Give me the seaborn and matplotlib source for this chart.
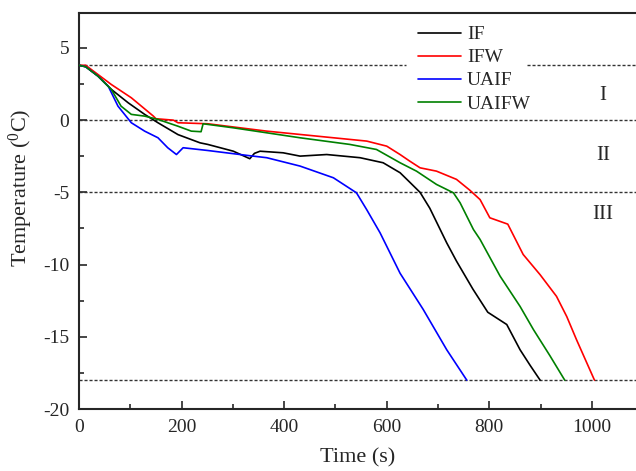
import numpy as np
import pandas as pd
import matplotlib
matplotlib.use("Agg")
import matplotlib.pyplot as plt
import seaborn as sns
from matplotlib.ticker import MultipleLocator

# ---- data ----
series_names = ["IF", "IFW", "UAIF", "UAIFW"]
series_colors = ["#000000", "#ff0000", "#0000ff", "#008000"]

IF_time = [0, 13, 37, 63, 96, 128, 154, 193, 236, 251, 301, 333, 342, 353, 398, 431,
           483, 548, 593, 626, 645, 665, 684, 717, 736, 768, 797, 834, 860, 880, 899]
IF_temp = [3.8, 3.7, 3.05, 2.13, 1.2, 0.4, -0.18, -1.0, -1.57, -1.68, -2.15, -2.67, -2.3,
           -2.15, -2.26, -2.49, -2.38, -2.6, -2.95, -3.64, -4.3, -5.0, -6.1, -8.5, -9.76,
           -11.7, -13.3, -14.15, -15.9, -17.0, -18.0]

IFW_time = [0, 13, 63, 102, 145, 150, 184, 193, 251, 366, 496, 561, 600, 626, 645, 665,
            697, 736, 762, 782, 801, 836, 866, 899, 931, 951, 970, 990, 1005]
IFW_temp = [3.8, 3.8, 2.47, 1.55, 0.28, 0.1, 0.0, -0.18, -0.25, -0.76, -1.22, -1.45, -1.8,
            -2.38, -2.84, -3.3, -3.53, -4.1, -4.85, -5.5, -6.76, -7.2, -9.3, -10.7, -12.2,
            -13.6, -15.2, -16.8, -18.0]

UAIF_time = [0, 13, 37, 57, 76, 102, 128, 154, 173, 190, 203, 251, 330, 366, 431, 496,
             541, 561, 587, 626, 671, 717, 756]
UAIF_temp = [3.8, 3.7, 3.05, 2.35, 0.97, -0.18, -0.76, -1.22, -1.91, -2.38, -1.91, -2.1,
             -2.45, -2.6, -3.18, -3.99, -5.03, -6.2, -7.8, -10.6, -13.1, -15.9, -18.0]

UAIFW_time = [0, 13, 37, 63, 82, 102, 128, 154, 193, 219, 238, 242, 301, 431, 528, 580,
              626, 658, 697, 730, 743, 769, 782, 821, 860, 886, 918, 947]
UAIFW_temp = [3.8, 3.7, 3.05, 2.13, 0.97, 0.4, 0.28, 0.05, -0.42, -0.76, -0.8, -0.25, -0.53,
              -1.22, -1.68, -2.03, -2.95, -3.53, -4.45, -5.03, -5.72, -7.57, -8.26, -10.8,
              -12.9, -14.5, -16.3, -18.0]

ref_lines = [3.8, 0, -5, -18]
zone_labels = ["I", "II", "III"]
zone_y = [1.68, -2.48, -6.51]
zone_x = 1022

# ---- build long table ----
frames = []
for name, t, v in [("IF", IF_time, IF_temp), ("IFW", IFW_time, IFW_temp),
                   ("UAIF", UAIF_time, UAIF_temp), ("UAIFW", UAIFW_time, UAIFW_temp)]:
    frames.append(pd.DataFrame({"Time": t, "Temp": v, "Series": name}))
df = pd.concat(frames, ignore_index=True)

sns.set_style("ticks")
plt.rcParams["font.family"] = ["Liberation Serif", "DejaVu Serif"]
plt.rcParams["mathtext.fontset"] = "custom"
plt.rcParams["mathtext.rm"] = "Liberation Serif"
plt.rcParams["mathtext.it"] = "Liberation Serif:italic"
plt.rcParams["axes.unicode_minus"] = False

fig = plt.figure(figsize=(6.36, 4.71), dpi=100)
ax = fig.add_axes([79 / 636, (471 - 409) / 471, 557 / 636, 396 / 471])

dash = dict(color="#333333", lw=1.0, ls=(0, (2.2, 1.4)), zorder=1)
for y in ref_lines:
    if y == ref_lines[0]:
        # top line is interrupted behind the legend
        ax.axhline(y, xmin=0, xmax=(406 - 79) / 557, **dash)
        ax.axhline(y, xmin=(527 - 79) / 557, xmax=1, **dash)
    else:
        ax.axhline(y, **dash)

sns.lineplot(data=df, x="Time", y="Temp", hue="Series", hue_order=series_names,
             palette=dict(zip(series_names, series_colors)), sort=False,
             estimator=None, lw=1.2, ax=ax, zorder=3)

for lab, yy in zip(zone_labels, zone_y):
    ax.text(zone_x, yy, lab, ha="center", va="center", fontsize=15)

ax.set_xlim(0, 1086)
ax.set_ylim(-20, 7.42)
ax.xaxis.set_major_locator(MultipleLocator(200))
ax.xaxis.set_minor_locator(MultipleLocator(100))
ax.yaxis.set_major_locator(MultipleLocator(5))
ax.yaxis.set_minor_locator(MultipleLocator(2.5))
ax.tick_params(which="major", direction="in", length=6, width=1.2, labelsize=14, pad=7)
ax.tick_params(which="minor", direction="in", length=3.5, width=1.2)
for s in ["left", "bottom", "top"]:
    ax.spines[s].set_linewidth(1.5)
ax.spines["right"].set_visible(False)

ax.set_xlabel("Time (s)", fontsize=16, labelpad=9)
ax.set_ylabel(r"Temperature ($^{0}$C)", fontsize=16)
ax.yaxis.set_label_coords(-0.079, 0.558)

leg = ax.legend(loc="upper left", bbox_to_anchor=(0.578, 1.012), fontsize=14,
                frameon=False, handlelength=2.2, handletextpad=0.3,
                labelspacing=0.28, borderpad=0.4)
for h in leg.get_lines():
    h.set_linewidth(1.2)

fig.savefig("out.png", dpi=100)
